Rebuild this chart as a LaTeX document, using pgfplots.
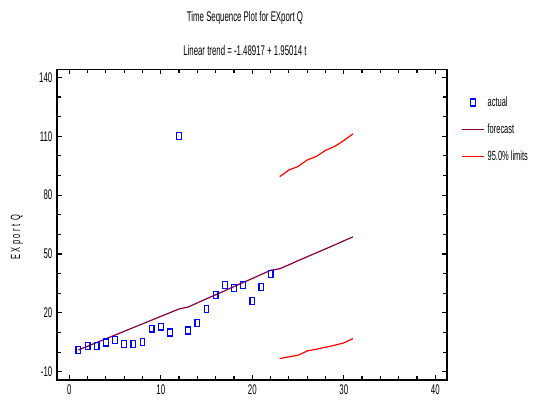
\documentclass[border=0pt]{standalone}
\usepackage{fontspec}
\setmainfont{Liberation Sans}[FakeStretch=0.56]
\usepackage{pgfplots}
\pgfplotsset{compat=1.18}
\definecolor{fcast}{RGB}{128,0,64}

\begin{document}
\begin{tikzpicture}[x=1pt,y=1pt]
\useasboundingbox (-42.75,-19.5) rectangle (360.75,285);
\begin{axis}[
  at={(0,0)}, anchor=south west,
  scale only axis, width=292.5pt, height=233pt,
  xmin=-1.34, xmax=41.28, ymin=-14.2, ymax=144.1,
  xtick={0,10,...,40}, ytick={-10,20,...,140},
  minor xtick={0,2,...,40}, minor ytick={-10,0,...,140},
  tick align=inside, major tick length=3.5pt, minor tick length=3pt,
  axis line style={line width=1.2pt},
  every tick/.style={black, line width=0.9pt},
  tick label style={font=\fontsize{10.5}{12}\selectfont},
  /pgf/number format/assume math mode=true,
  ylabel={\addfontfeature{LetterSpace=18}EXport Q},
  ylabel style={font=\fontsize{10}{12}\selectfont, at={(axis description cs:-0.103,0.46)}, anchor=center},
  legend style={at={(axis description cs:1.025,0.93)}, anchor=north west,
    draw=none, fill=none, font=\fontsize{10}{12}\selectfont, row sep=7.5pt},
  legend cell align=left,
  clip=false,
]
\addplot[only marks, mark=square, mark size=2.6pt,
  mark options={blue, line width=0.9pt, xscale=0.68}]
  coordinates {
    (1,1.1) (2,3.1) (3,3.1) (4,4.9) (5,6.1) (6,4.1) (7,4.1) (8,5.1)
    (9,12) (10,13) (11,10) (12,110) (13,11) (14,15) (15,22) (16,29.1)
    (17,34.1) (18,32.6) (19,34.1) (20,26.1) (21,33.1) (22,39.9)
  };
\addlegendentry{actual}
\addplot[fcast, line width=0.9pt, no marks]
  coordinates {
    (1,1.1) (2,3.0) (3,4.9) (4,6.8) (5,8.7) (6,10.6) (7,12.5) (8,14.4)
    (9,16.3) (10,18.2) (11,20.1) (12,22.0) (13,23.0) (14,25.1) (15,27.2)
    (16,29.2) (17,31.3) (18,33.4) (19,35.5) (20,37.5) (21,39.6) (22,41.7)
    (23,42.5) (24,44.5) (25,46.6) (26,48.6) (27,50.6) (28,52.6) (29,54.6)
    (30,56.7) (31,58.7)
  };
\addlegendentry{forecast}
\addplot[red, line width=0.9pt, no marks]
  coordinates {
    (23,89.4) (24,92.8) (25,94.6) (26,97.9) (27,99.7) (28,102.8)
    (29,104.8) (30,107.8) (31,111.2)
  };
\addlegendentry{95.0\% limits}
\addplot[red, line width=0.9pt, no marks, forget plot]
  coordinates {
    (23,-3.3) (24,-2.4) (25,-1.6) (26,0.6) (27,1.5) (28,2.5)
    (29,3.5) (30,4.7) (31,6.9)
  };
\node[font=\fontsize{10.5}{12}\selectfont] at (axis description cs:0.482,1.165)
  {Time Sequence Plot for EXport Q};
\node[font=\fontsize{10.5}{12}\selectfont] at (axis description cs:0.482,1.062)
  {Linear trend = -1.48917 + 1.95014 t};
\end{axis}
\end{tikzpicture}
\end{document}
